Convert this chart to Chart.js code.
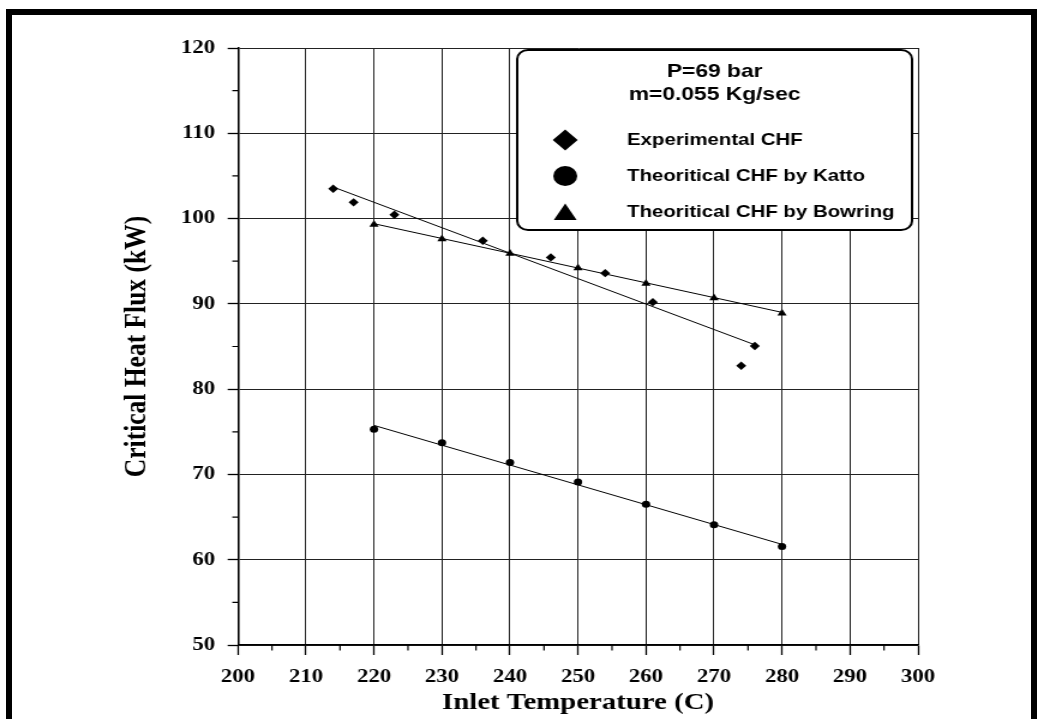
<!DOCTYPE html>
<html>
<head>
<meta charset="utf-8">
<title>CHF vs Inlet Temperature</title>
<script src="https://cdn.jsdelivr.net/npm/chart.js@4.4.0/dist/chart.umd.min.js"></script>
<style>
  html, body { margin: 0; padding: 0; background: #fff; }
  body { width: 1039px; height: 719px; overflow: hidden; position: relative; }
  /* the original picture is stretched sideways, so the chart is drawn narrow and scaled */
  #wrap { position: absolute; left: 0; top: 0; width: 866px; height: 719px; transform: scaleX(1.2); transform-origin: 0 0; }
  #frame { position: absolute; left: 6px; top: 9px; width: 1031px; height: 760px; box-sizing: border-box; border: 6px solid #000; pointer-events: none; }
</style>
</head>
<body>
<div id="wrap"><canvas id="mycanvas"></canvas></div>
<div id="frame"></div>
<script>
var expTemp = [214, 217, 223, 236, 246, 254, 261, 276, 274];
var expFlux = [103.5, 101.9, 100.45, 97.4, 95.45, 93.6, 90.2, 85.05, 82.75];

var kattoTemp = [220, 230, 240, 250, 260, 270, 280];
var kattoFlux = [75.3, 73.7, 71.4, 69.1, 66.5, 64.1, 61.55];

var bowringTemp = [220, 230, 240, 250, 260, 270, 280];
var bowringFlux = [99.3, 97.6, 95.9, 94.2, 92.4, 90.7, 88.9];

// trend lines, end points
var expFitTemp = [214, 276];
var expFitFlux = [103.7, 85.2];
var kattoFitTemp = [220, 280];
var kattoFitFlux = [75.75, 61.8];
var bowringFitTemp = [220, 280];
var bowringFitFlux = [99.4, 89.0];

var xTicks = [200, 210, 220, 230, 240, 250, 260, 270, 280, 290, 300];
var yTicks = [50, 60, 70, 80, 90, 100, 110, 120];

var legendTitle = ['P=69 bar', 'm=0.055 Kg/sec'];
var legendLabels = ['Experimental CHF', 'Theoritical CHF by Katto', 'Theoritical CHF by Bowring'];

function pts(xs, ys) {
  var out = [];
  for (var i in xs) {
    out.push({x: xs[i], y: ys[i]});
  }
  return out;
}

var serif = '"Liberation Serif", "Times New Roman", serif';
var sans = '"Liberation Sans", Arial, sans-serif';

function marker(ctx, style, x, y, r) {
  ctx.beginPath();
  if (style == 'diamond') {
    ctx.moveTo(x, y - r); ctx.lineTo(x + r, y); ctx.lineTo(x, y + r); ctx.lineTo(x - r, y);
  } else if (style == 'circle') {
    ctx.arc(x, y, r, 0, Math.PI * 2);
  } else {
    ctx.moveTo(x, y - r);
    ctx.lineTo(x + r * 0.866, y + r * 0.5);
    ctx.lineTo(x - r * 0.866, y + r * 0.5);
  }
  ctx.closePath();
  ctx.fill();
}

// small ticks half way between the labelled ones
var minorTicks = {
  id: 'minorTicks',
  afterDraw: function(chart) {
    var ctx = chart.ctx, a = chart.chartArea;
    var xs = chart.scales.x, ys = chart.scales.y;
    ctx.save();
    ctx.strokeStyle = '#000';
    ctx.lineWidth = 1.2;
    ctx.beginPath();
    for (var i = 0; i < ys.ticks.length - 1; i++) {
      var py = ys.getPixelForValue((ys.ticks[i].value + ys.ticks[i + 1].value) / 2);
      ctx.moveTo(a.left - 4.75, py); ctx.lineTo(a.left, py);
    }
    for (var j = 0; j < xs.ticks.length - 1; j++) {
      var px = xs.getPixelForValue((xs.ticks[j].value + xs.ticks[j + 1].value) / 2);
      ctx.moveTo(px, a.bottom); ctx.lineTo(px, a.bottom + 5.5);
    }
    ctx.stroke();
    ctx.restore();
  }
};

var legendBox = {
  id: 'legendBox',
  afterDraw: function(chart) {
    var ctx = chart.ctx;
    var x0 = 431, y0 = 50, w = 329, h = 180;
    ctx.save();
    ctx.fillStyle = '#fff';
    ctx.strokeStyle = '#000';
    ctx.lineWidth = 2;
    ctx.beginPath();
    ctx.roundRect(x0, y0, w, h, 9);
    ctx.fill();
    ctx.stroke();

    ctx.fillStyle = '#000';
    ctx.textBaseline = 'middle';
    ctx.textAlign = 'center';
    ctx.font = 'bold 19px ' + sans;
    ctx.fillText(legendTitle[0], x0 + w / 2, 72);
    ctx.fillText(legendTitle[1], x0 + w / 2, 95);

    var rows = [140, 176, 212.5];
    var shapes = ['diamond', 'circle', 'triangle'];
    var sizes = [10.4, 10, 11];
    ctx.textAlign = 'left';
    ctx.font = 'bold 17px ' + sans;
    for (var i in legendLabels) {
      var ry = rows[i];
      if (shapes[i] == 'triangle') ry += 2;
      marker(ctx, shapes[i], 471, ry, sizes[i]);
      ctx.fillText(legendLabels[i], 522.5, rows[i]);
    }
    ctx.restore();
  }
};

var chartdata = {
  datasets: [
    {
      label: legendLabels[0],
      data: pts(expTemp, expFlux),
      showLine: false,
      pointStyle: 'rectRot',
      pointRadius: 4.2,
      backgroundColor: '#000',
      borderWidth: 0
    },
    {
      label: legendLabels[1],
      data: pts(kattoTemp, kattoFlux),
      showLine: false,
      pointStyle: 'circle',
      pointRadius: 3.5,
      backgroundColor: '#000',
      borderWidth: 0
    },
    {
      label: legendLabels[2],
      data: pts(bowringTemp, bowringFlux),
      showLine: false,
      pointStyle: 'triangle',
      pointRadius: 4.5,
      backgroundColor: '#000',
      borderWidth: 0
    },
    { data: pts(expFitTemp, expFitFlux), showLine: true, pointRadius: 0, borderColor: '#000', borderWidth: 1 },
    { data: pts(kattoFitTemp, kattoFitFlux), showLine: true, pointRadius: 0, borderColor: '#000', borderWidth: 1 },
    { data: pts(bowringFitTemp, bowringFitFlux), showLine: true, pointRadius: 0, borderColor: '#000', borderWidth: 1 }
  ]
};

var ctx = document.getElementById('mycanvas');

var chart = new Chart(ctx, {
  type: 'scatter',
  data: chartdata,
  plugins: [minorTicks, legendBox],
  options: {
    responsive: true,
    maintainAspectRatio: false,
    animation: false,
    events: [],
    layout: { padding: { left: 0, top: 48, right: 101, bottom: 0 } },
    plugins: {
      legend: { display: false },
      tooltip: { enabled: false }
    },
    scales: {
      x: {
        type: 'linear',
        min: xTicks[0],
        max: xTicks[xTicks.length - 1],
        afterFit: function(s) { s.height = 74; },
        ticks: {
          stepSize: xTicks[1] - xTicks[0],
          maxRotation: 0,
          autoSkip: false,
          padding: 11,
          color: '#000',
          font: { family: serif, size: 19, weight: 'bold' }
        },
        grid: { color: '#222', lineWidth: 1, tickLength: 10, tickColor: '#000', tickWidth: 1.3 },
        border: { color: '#000', width: 1.6 },
        title: {
          display: true,
          text: 'Inlet Temperature (C)',
          color: '#000',
          font: { family: serif, size: 24, weight: 'bold' },
          padding: { top: 0, bottom: 2 }
        }
      },
      y: {
        type: 'linear',
        min: yTicks[0],
        max: yTicks[yTicks.length - 1],
        afterFit: function(s) { s.width = 198.3; },
        ticks: {
          stepSize: yTicks[1] - yTicks[0],
          padding: 10.5,
          color: '#000',
          font: { family: serif, size: 19, weight: 'bold' }
        },
        grid: { color: '#222', lineWidth: 1, tickLength: 8.6, tickColor: '#000', tickWidth: 1.3 },
        border: { color: '#000', width: 1.6 },
        title: {
          display: true,
          text: 'Critical Heat Flux (kW)',
          color: '#000',
          font: { family: serif, size: 25.5, weight: 'bold' },
          padding: { top: 99.3, bottom: 0 }
        }
      }
    }
  }
});
</script>
</body>
</html>
